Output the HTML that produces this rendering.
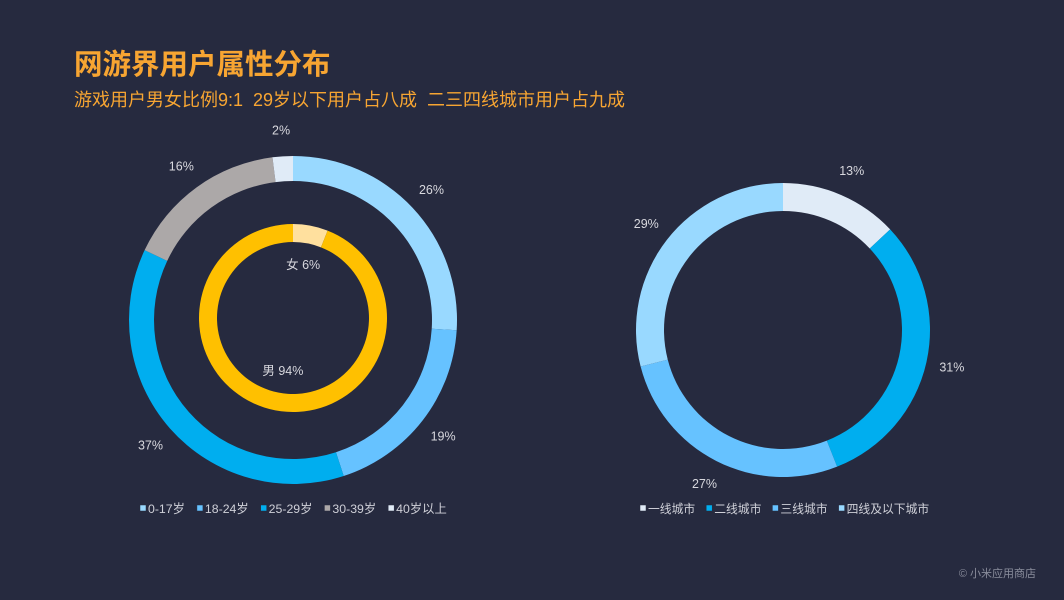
<!DOCTYPE html>
<html><head><meta charset="utf-8"><style>
body{margin:0;width:1064px;height:600px;background:#262a3f;overflow:hidden;font-family:"Liberation Sans","Noto Sans CJK SC",sans-serif}
text{white-space:pre}
</style></head><body>
<svg id="c" width="1064" height="600" style="position:absolute;left:0;top:0">
<text x="74" y="74" fill="#f7a532" font-size="28.5" font-weight="bold" font-family="Liberation Sans,Noto Sans CJK SC,sans-serif">网游界用户属性分布</text>
<text x="74" y="106" fill="#f7a532" font-size="18" font-family="Liberation Sans,Noto Sans CJK SC,sans-serif" xml:space="preserve">游戏用户男女比例9:1  29岁以下用户占八成  二三四线城市用户占九成</text>
<text x="1036" y="577" fill="#8a8d9c" font-size="11" text-anchor="end" font-family="Liberation Sans,Noto Sans CJK SC,sans-serif">© 小米应用商店</text>
</svg>
<script>
const ageCats=['0-17岁','18-24岁','25-29岁','30-39岁','40岁以上'];
const ageVals=[26,19,37,16,2];
const sexCats=['女','男'];
const sexVals=[6,94];
const cityCats=['一线城市','二线城市','三线城市','四线及以下城市'];
const cityVals=[13,31,27,29];
const ageColors=['#99d9ff','#66c2ff','#00aeef','#aca8a8','#e0ebf7'];
const sexColors=['#ffe09e','#ffc000'];
const cityColors=['#e0ebf7','#00aeef','#66c2ff','#99d9ff'];
const svg=document.getElementById('c');
const NS='http://www.w3.org/2000/svg';
function el(t,a){const e=document.createElementNS(NS,t);for(const k in a)e.setAttribute(k,a[k]);svg.appendChild(e);return e;}
function pt(cx,cy,r,a){return [cx+r*Math.sin(a),cy-r*Math.cos(a)];}
function donut(name,cx,cy,r0,r1,vals,colors,labelMode,cats){
  const tot=vals.reduce((a,b)=>a+b,0);let acc=0;
  vals.forEach((v,i)=>{
    const a0=acc/tot*2*Math.PI;acc+=v;const a1=acc/tot*2*Math.PI;
    const lg=(a1-a0)>Math.PI?1:0;
    const [x0,y0]=pt(cx,cy,r1,a0),[x1,y1]=pt(cx,cy,r1,a1),[x2,y2]=pt(cx,cy,r0,a1),[x3,y3]=pt(cx,cy,r0,a0);
    const p=el('path',{d:`M${x0},${y0}A${r1},${r1} 0 ${lg} 1 ${x1},${y1}L${x2},${y2}A${r0},${r0} 0 ${lg} 0 ${x3},${y3}Z`,fill:colors[i]});
    
    
    const am=(a0+a1)/2;
    let tx,ty;
    if(labelMode==='out'){[tx,ty]=pt(cx,cy,r1+26,am);}
    else{[tx,ty]=pt(cx,cy,r0-22,am);}
    const t=el('text',{x:tx,y:ty+4,fill:'#d8d8de','font-size':12.5,'text-anchor':'middle'});
    t.textContent=(labelMode==='in'?cats[i]+' ':'')+v+'%';
    
    
  });
}
donut('age',293,320,139,164,ageVals,ageColors,'out');
donut('sex',293,318,76,94,sexVals,sexColors,'in',sexCats);
donut('city',783,330,119,147,cityVals,cityColors,'out');
function legend(name,x,y,cats,colors,gap,fs){
  let cx=x;
  cats.forEach((c,i)=>{
    const r=el('rect',{x:cx,y:y-4,width:6,height:6,fill:colors[i],stroke:'#262a3f','stroke-width':0.5});
    
    
    const t=el('text',{x:cx+8,y:y+4,fill:'#cfd0d8','font-size':fs});
    t.textContent=c;
    
    
    cx+=8+t.getComputedTextLength()+gap;
  });
}
legend('age',140,509,ageCats,ageColors,12,12.3);
legend('city',640,509,cityCats,cityColors,11,11.8);
</script>
</body></html>
